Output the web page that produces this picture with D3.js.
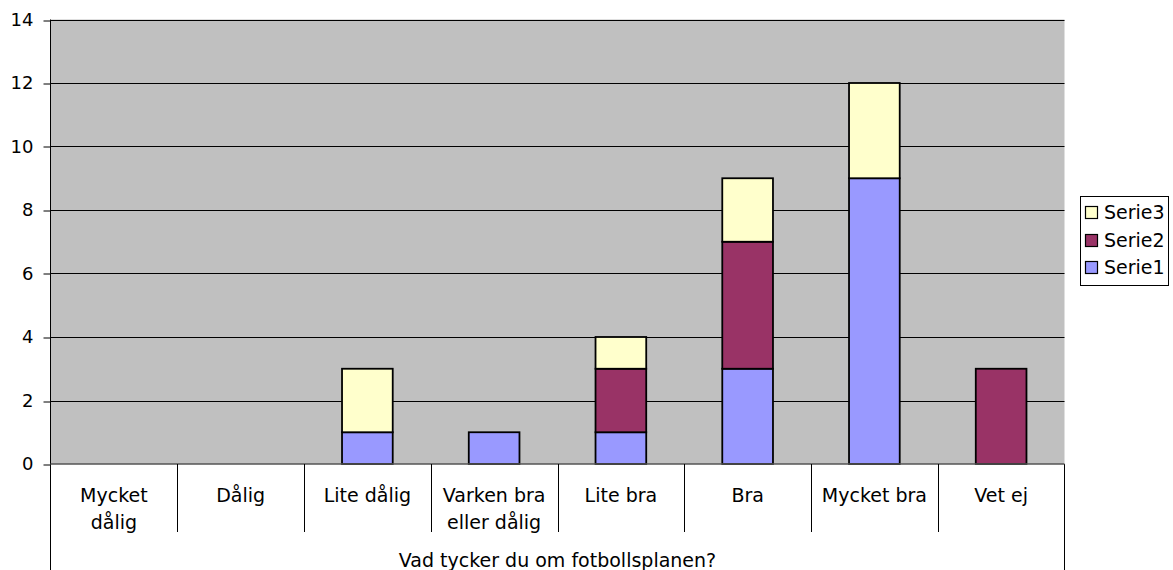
<!DOCTYPE html>
<html>
<head>
<meta charset="utf-8">
<script src="https://cdn.jsdelivr.net/npm/d3@7"></script>
<style>
  html, body { margin: 0; padding: 0; background: #fff; }
  svg { display: block; }
  text { font-family: "DejaVu Sans", Verdana, sans-serif; fill: #000; }
</style>
</head>
<body>
<svg id="chart" width="1173" height="570"></svg>
<script>
// ---- data ----
const categories = ["Mycket dålig", "Dålig", "Lite dålig", "Varken bra eller dålig", "Lite bra", "Bra", "Mycket bra", "Vet ej"];
const categoryLines = [["Mycket", "dålig"], ["Dålig"], ["Lite dålig"], ["Varken bra", "eller dålig"], ["Lite bra"], ["Bra"], ["Mycket bra"], ["Vet ej"]];
const serie1 = [0, 0, 1, 1, 1, 3, 9, 0];
const serie2 = [0, 0, 0, 0, 2, 4, 0, 3];
const serie3 = [0, 0, 2, 0, 1, 2, 3, 0];
const seriesNames = ["Serie1", "Serie2", "Serie3"];
const seriesColors = ["#9999FF", "#993366", "#FFFFCC"];
const yTicks = [0, 2, 4, 6, 8, 10, 12, 14];
const axisTitle = "Vad tycker du om fotbollsplanen?";

// ---- layout ----
const svg = d3.select("#chart");
const pL = 50.5, pR = 1064.5, pT = 19.5, pB = 464;

const x = d3.scaleBand().domain(categories).range([pL, pR]).paddingInner(0.6).paddingOuter(0.3);
const xCat = d3.scaleBand().domain(categories).range([pL, pR]).padding(0);
const y = d3.scaleLinear().domain([0, 14]).range([pB, pT]);

// plot background
svg.append("rect")
  .attr("x", pL).attr("y", pT)
  .attr("width", pR - pL).attr("height", pB - pT)
  .attr("fill", "#C0C0C0");

// gridlines
svg.append("g").selectAll("line").data(yTicks.filter(d => d > 0)).join("line")
  .attr("x1", pL).attr("x2", pR)
  .attr("y1", d => Math.round(y(d)) + 0.5).attr("y2", d => Math.round(y(d)) + 0.5)
  .attr("stroke", "#000").attr("stroke-width", 1);

// y axis
const yAxis = d3.axisLeft(y).tickValues(yTicks).tickSize(7).tickPadding(10).tickSizeOuter(0);
const gy = svg.append("g").attr("transform", `translate(${pL},0)`).call(yAxis);
gy.select(".domain").remove();
gy.selectAll(".tick line").attr("stroke", "#000")
  .attr("transform", function(d){ const yy = y(d); return `translate(0,${Math.round(yy)+0.5-yy})`; });
gy.selectAll(".tick text").attr("font-size", 18).attr("font-family", '"DejaVu Sans", Verdana, sans-serif').attr("fill", "#000");

// stacked bars
const rows = categories.map((c, i) => ({ cat: c, Serie1: serie1[i], Serie2: serie2[i], Serie3: serie3[i] }));
const stacked = d3.stack().keys(seriesNames)(rows);
stacked.forEach((layer, si) => {
  svg.append("g").selectAll("rect").data(layer.filter(d => d[1] - d[0] > 0)).join("rect")
    .attr("x", d => x(d.data.cat))
    .attr("width", x.bandwidth())
    .attr("y", d => y(d[1]))
    .attr("height", d => y(d[0]) - y(d[1]))
    .attr("fill", seriesColors[si])
    .attr("stroke", "#000").attr("stroke-width", 1.8);
});

// axis lines
svg.append("line").attr("x1", pL).attr("x2", pL).attr("y1", pT).attr("y2", 570)
  .attr("stroke", "#000").attr("stroke-width", 1);
svg.append("line").attr("x1", pR).attr("x2", pR).attr("y1", pB).attr("y2", 570)
  .attr("stroke", "#000").attr("stroke-width", 1);
svg.append("line").attr("x1", pL).attr("x2", pR).attr("y1", pB).attr("y2", pB)
  .attr("stroke", "#555").attr("stroke-width", 1.5);

// category separators
svg.append("g").selectAll("line").data(categories.slice(1)).join("line")
  .attr("x1", d => Math.round(xCat(d)) + 0.5).attr("x2", d => Math.round(xCat(d)) + 0.5)
  .attr("y1", pB).attr("y2", 532)
  .attr("stroke", "#000").attr("stroke-width", 1);

// category labels
const labG = svg.append("g");
categories.forEach((c, i) => {
  const cx = xCat(c) + xCat.bandwidth() / 2;
  const t = labG.append("text").attr("x", cx).attr("y", 502).attr("text-anchor", "middle").attr("font-size", 19);
  categoryLines[i].forEach((ln, j) => {
    t.append("tspan").attr("x", cx).attr("dy", j === 0 ? 0 : 26.5).text(ln);
  });
});

// axis title
svg.append("text").attr("x", (pL + pR) / 2).attr("y", 567)
  .attr("text-anchor", "middle").attr("font-size", 19).text(axisTitle);

// legend
const lg = svg.append("g");
lg.append("rect").attr("x", 1080.5).attr("y", 196.5).attr("width", 88).attr("height", 89)
  .attr("fill", "#fff").attr("stroke", "#000").attr("stroke-width", 1);
const legendOrder = [2, 1, 0];
legendOrder.forEach((si, k) => {
  const cy = 212 + k * 27.5;
  lg.append("rect").attr("x", 1085.5).attr("y", Math.round(cy - 6) + 0.5).attr("width", 12).attr("height", 12)
    .attr("fill", seriesColors[si]).attr("stroke", "#000").attr("stroke-width", 1.2);
  lg.append("text").attr("x", 1104).attr("y", cy + 7).attr("font-size", 19).text(seriesNames[si]);
});
</script>
</body>
</html>
